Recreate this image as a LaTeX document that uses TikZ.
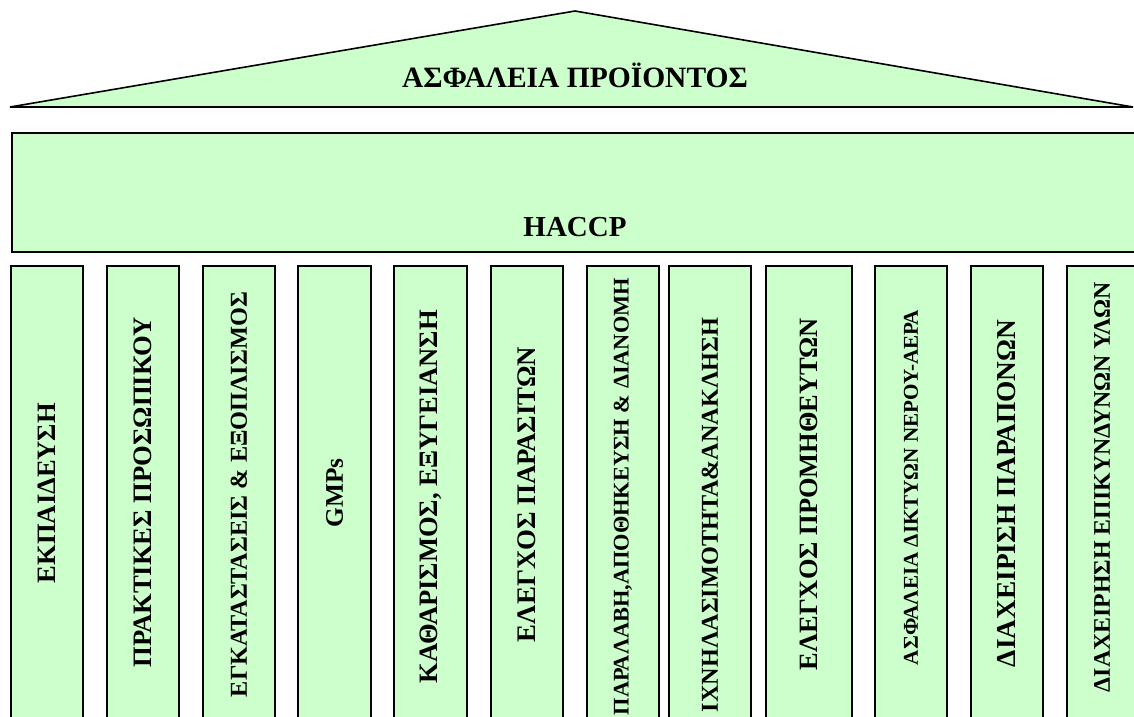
\documentclass[tikz,border=0pt]{standalone}
\usepackage{fontspec}
\setmainfont{Liberation Serif}
\usepackage{graphicx}
\definecolor{paleGreen}{HTML}{CCFFCC}
\begin{document}
\begin{tikzpicture}[x=1pt,y=-1pt,
  block/.style={draw=black, line width=1.6pt, fill=paleGreen, inner sep=0pt},
  pillar/.style={block, rotate=90, minimum width=454pt},
  heading/.style={font=\bfseries\fontsize{#1}{#1}\selectfont, inner sep=0pt, anchor=base}]
\clip (0,0) rectangle (1134,716);
% roof
\draw[block, line join=miter] (10,107) -- (575,11) -- (1133,107) -- cycle;
\node[heading=29.5] (title) at (575,87) {ΑΣΦΑΛΕΙΑ ΠΡΟΪΟΝΤΟΣ};
% beam
\node[block, anchor=north west, minimum width=1140pt, minimum height=119pt] (haccp) at (11,132) {};
\node[heading=29] (haccpLabel) at (575,236) {HACCP};
% pillars: left/right edge, text length, text offset, label, name
\foreach \l/\r/\len/\s/\txt/\n in {
  11/83/180/0/{ΕΚΠΑΙΔΕΥΣΗ}/p1,
  107/179/350/-2/{ΠΡΑΚΤΙΚΕΣ ΠΡΟΣΩΠΙΚΟΥ}/p2,
  203/275/405/3/{ΕΓΚΑΤΑΣΤΑΣΕΙΣ \& ΕΞΟΠΛΙΣΜΟΣ}/p3,
  298/371/69/0/{GMPs}/p4,
  394/467/373/7/{ΚΑΘΑΡΙΣΜΟΣ, ΕΞΥΓΕΙΑΝΣΗ}/p5,
  491/563/295/3/{ΕΛΕΓΧΟΣ ΠΑΡΑΣΙΤΩΝ}/p6,
  587/659/437/7/{ΠΑΡΑΛΑΒΗ,ΑΠΟΘΗΚΕΥΣΗ \& ΔΙΑΝΟΜΗ}/p7,
  669/751/394/44/{ΙΧΝΗΛΑΣΙΜΟΤΗΤΑ\&ΑΝΑΚΛΗΣΗ}/p8,
  766/852/352/2/{ΕΛΕΓΧΟΣ ΠΡΟΜΗΘΕΥΤΩΝ}/p9,
  875/947/355/-11/{ΑΣΦΑΛΕΙΑ ΔΙΚΤΥΩΝ ΝΕΡΟΥ-ΑΕΡΑ}/p10,
  971/1043/347/1/{ΔΙΑΧΕΙΡΙΣΗ ΠΑΡΑΠΟΝΩΝ}/p11,
  1067/1137/410/-12/{ΔΙΑΧΕΙΡΗΣΗ ΕΠΙΚΥΝΔΥΝΩΝ ΥΛΩΝ}/p12}
{
  \pgfmathsetmacro{\w}{\r-\l}
  \pgfmathsetmacro{\cx}{(\l+\r)/2}
  \node[pillar, minimum height=\w pt] (\n) at (\cx,493)
    {\resizebox{\len pt}{!}{\bfseries \txt}\hspace*{\s pt}};
}
\end{tikzpicture}
\end{document}
